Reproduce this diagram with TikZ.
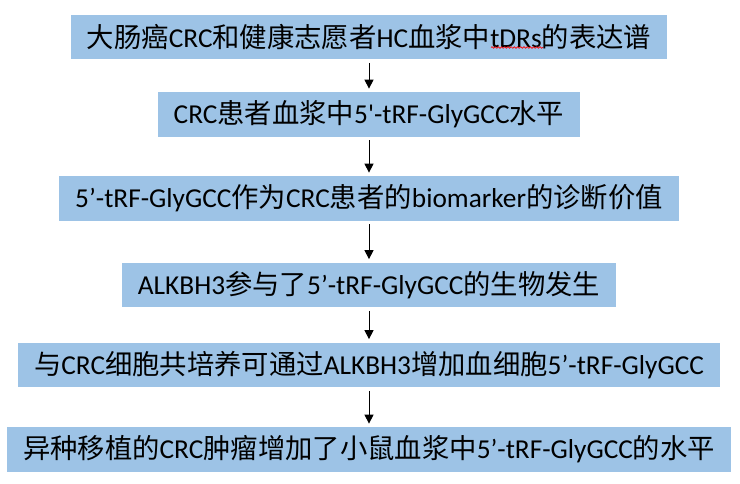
\documentclass[tikz,border=0pt]{standalone}
\usepackage{fontspec}
\setmainfont{Carlito}
\newfontfamily\cjk{Noto Sans CJK SC}
\newfontfamily\straight{Carlito}
\usepackage{xcolor}
\usetikzlibrary{arrows.meta,positioning,decorations.pathmorphing}
\definecolor{boxblue}{HTML}{9DC3E6}
\newcommand{\zh}[1]{{\cjk #1}}

\begin{document}
\begin{tikzpicture}[x=0.75pt,y=-0.75pt,
    flowbox/.style={fill=boxblue, inner xsep=12pt, inner ysep=0pt,
        minimum height=33.4pt, font=\fontsize{20.5}{24}\selectfont},
    flowarrow/.style={-{Triangle[width=6.75pt,length=6.75pt]}, line width=0.75pt,
        shorten <=2.5pt, shorten >=2.5pt}]

        \useasboundingbox (0,0) rectangle (740,483);

        \node[flowbox] (expr) at (369,37) {\zh{大肠癌}CRC\zh{和健康志愿者}HC\zh{血浆中}tDRs\zh{的表达谱}};
        \node[flowbox] (level) at (369,114.5) {CRC\zh{患者血浆中}5{\straight '}-tRF-GlyGCC\zh{水平}};
        \node[flowbox] (diag) at (369,198.5) {5’-tRF-GlyGCC\zh{作为}CRC\zh{患者的}biomarker\zh{的诊断价值}};
        \node[flowbox] (alkbh) at (369,285) {ALKBH3\zh{参与了}5’-tRF-GlyGCC\zh{的生物发生}};
        \node[flowbox] (cocult) at (369,365) {\zh{与}CRC\zh{细胞共培养可通过}ALKBH3\zh{增加血细胞}5’-tRF-GlyGCC};
        \node[flowbox] (xeno) at (369,449.5) {\zh{异种移植的}CRC\zh{肿瘤增加了小鼠血浆中}5’-tRF-GlyGCC\zh{的水平}};

        \draw[flowarrow] (expr) -- (level);
        \draw[flowarrow] (level) -- (diag);
        \draw[flowarrow] (diag) -- (alkbh);
        \draw[flowarrow] (alkbh) -- (cocult);
        \draw[flowarrow] (cocult) -- (xeno);

        % spell-check underline
        \draw[red, line width=0.5pt, decorate,
            decoration={snake, amplitude=0.6pt, segment length=2.4pt}] (491,47.5) -- (543,47.5);

\end{tikzpicture}
\end{document}
